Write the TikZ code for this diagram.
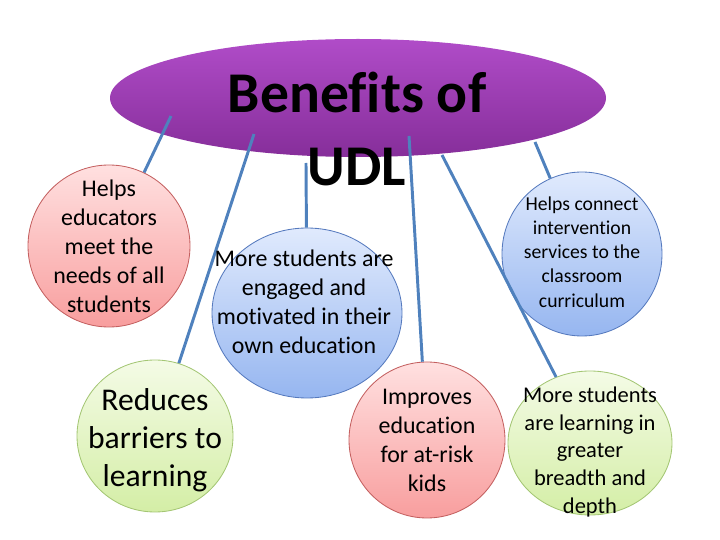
\documentclass[tikz,border=0pt]{standalone}
\usepackage{fontspec}
\setmainfont{Carlito}[Ligatures=NoCommon]
\usepackage{tikz}
\usetikzlibrary{shapes.geometric}

\definecolor{udlpurple}{RGB}{176,76,200}
\definecolor{udlpurpledk}{RGB}{134,46,154}
\definecolor{redtop}{RGB}{255,224,224}
\definecolor{redbot}{RGB}{248,158,158}
\definecolor{redrim}{RGB}{196,96,96}
\definecolor{bluetop}{RGB}{224,234,253}
\definecolor{bluebot}{RGB}{150,182,240}
\definecolor{bluerim}{RGB}{86,122,190}
\definecolor{greentop}{RGB}{244,251,230}
\definecolor{greenbot}{RGB}{212,238,166}
\definecolor{greenrim}{RGB}{164,198,116}
\definecolor{linkblue}{RGB}{79,129,189}

\tikzset{
  bubble/.style={ellipse, inner sep=0pt, line width=0.6pt},
  redbubble/.style={bubble, draw=redrim, top color=redtop, bottom color=redbot},
  bluebubble/.style={bubble, draw=bluerim, top color=bluetop, bottom color=bluebot},
  greenbubble/.style={bubble, draw=greenrim, top color=greentop, bottom color=greenbot},
  bubbletext/.style={align=center, inner sep=0pt, text=black},
  link/.style={draw=linkblue, line width=2.1pt},
}

\begin{document}
\begin{tikzpicture}
  \useasboundingbox (0,0) rectangle (18,13.5);

  % Main ellipse
  \node[ellipse, inner sep=0pt, minimum width=12.4cm, minimum height=2.95cm,
        top color=udlpurple, bottom color=udlpurpledk] (hub) at (8.95, 11.05) {};

  % Benefit bubbles
  \node[redbubble, minimum width=4.05cm, minimum height=4.05cm] (educators) at (2.725, 7.35) {};
  \node[bluebubble, minimum width=4.75cm, minimum height=4.25cm] (engaged) at (7.675, 5.675) {};
  \node[greenbubble, minimum width=3.9cm, minimum height=3.8cm] (barriers) at (3.875, 2.6) {};
  \node[redbubble, minimum width=3.9cm, minimum height=3.9cm] (atrisk) at (10.675, 2.5) {};
  \node[bluebubble, minimum width=4.0cm, minimum height=4.1cm] (services) at (14.55, 7.15) {};
  \node[greenbubble, minimum width=4.1cm, minimum height=3.6cm] (breadth) at (14.75, 2.425) {};

  % Free ends of the links inside the ellipse
  \coordinate (h1) at (4.275, 10.6);
  \coordinate (h2) at (6.35, 10.15);
  \coordinate (h3) at (7.65, 9.425);
  \coordinate (h4) at (10.225, 10.1);
  \coordinate (h5) at (11.05, 9.625);
  \coordinate (h6) at (13.375, 9.95);

  % Links
  \draw[link] (h1) -- (educators);
  \draw[link] (h2) -- (barriers);
  \draw[link] (h3) -- (engaged);
  \draw[link] (h4) -- (atrisk);
  \draw[link] (h5) -- (breadth);
  \draw[link] (h6) -- (services);

  % Bubble texts
  \node[bubbletext, font=\fontsize{17}{20.6}\selectfont] (educators-t) at (educators.center)
    {Helps\\educators\\meet the\\needs of all\\students};
  \node[bubbletext, font=\fontsize{17}{20.6}\selectfont] (engaged-t) at (7.6, 5.95)
    {More students are\\engaged and\\motivated in their\\own education};
  \node[bubbletext, font=\fontsize{22.5}{27.2}\selectfont] (barriers-t) at (3.875, 2.5)
    {Reduces\\barriers to\\learning};
  \node[bubbletext, font=\fontsize{17}{20.6}\selectfont] (atrisk-t) at (10.675, 2.5)
    {Improves\\education\\for at-risk\\kids};
  \node[bubbletext, font=\fontsize{14}{17.2}\selectfont] (services-t) at (14.55, 7.2)
    {Helps connect\\intervention\\services to the\\classroom\\curriculum};
  \node[bubbletext, font=\fontsize{16}{19.6}\selectfont] (breadth-t) at (14.75, 2.2)
    {More students\\are learning in\\greater\\breadth and\\depth};

  % Title
  \node[align=center, inner sep=0pt, font=\bfseries\fontsize{41}{52}\selectfont] (title) at (8.925, 10.27)
    {Benefits of\\UDL};
\end{tikzpicture}
\end{document}
